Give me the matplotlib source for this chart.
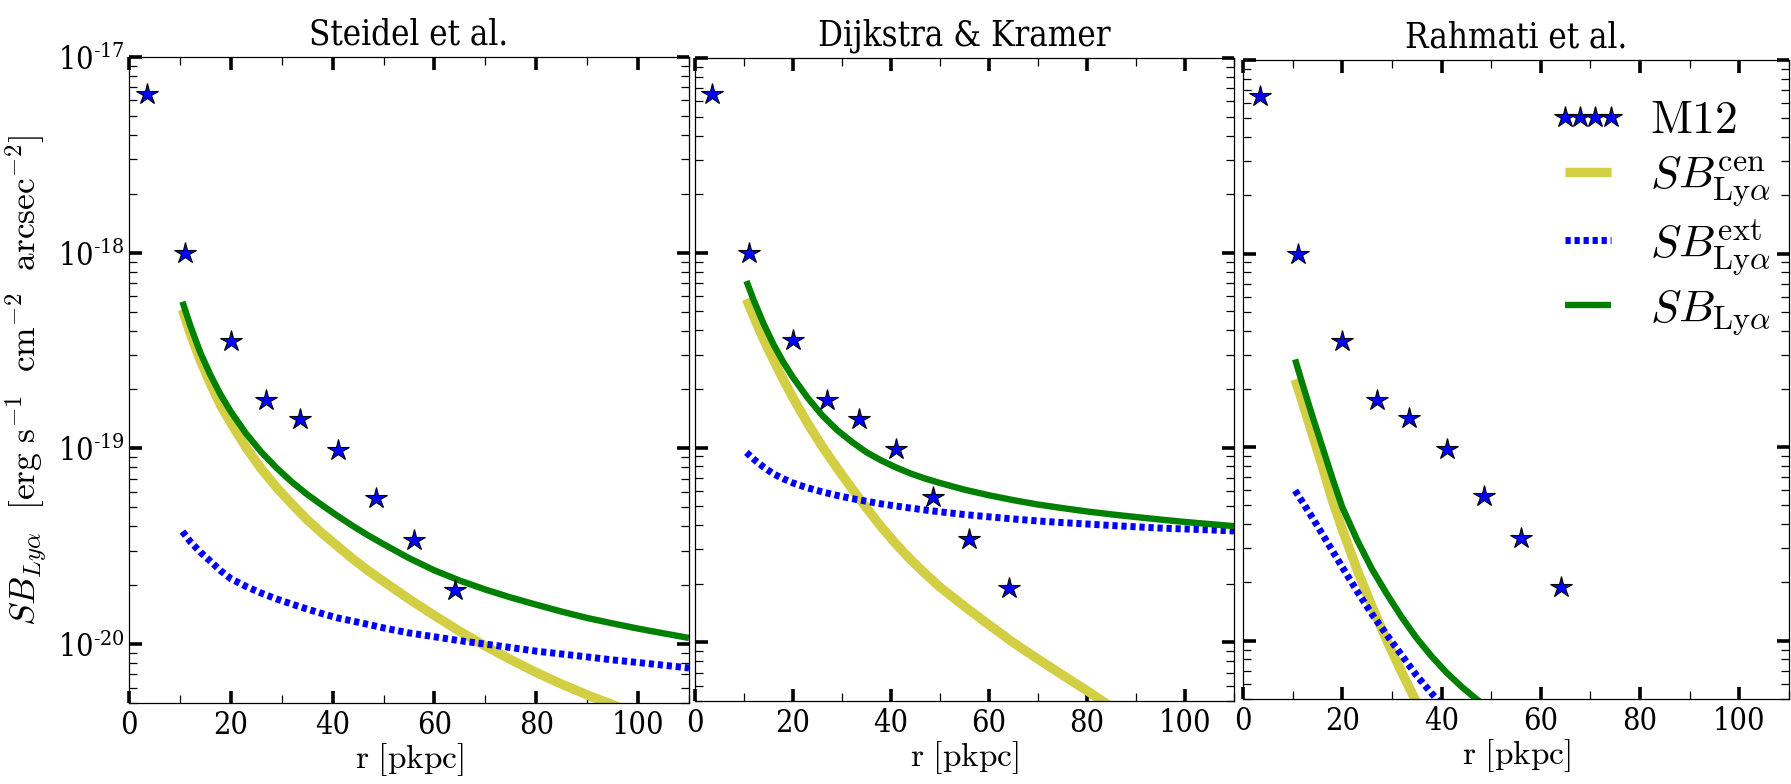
import numpy as np
import matplotlib
matplotlib.use("Agg")
import matplotlib.pyplot as plt
from matplotlib.ticker import FixedLocator, FuncFormatter, LogLocator, NullFormatter
from matplotlib.font_manager import FontProperties

# ---------------- data ----------------
titles = ["Steidel et al.", "Dijkstra & Kramer", "Rahmati et al."]

# M12 stacked profile (same in all panels)
m12_r = [3.5, 11, 20, 27, 33.5, 41, 48.5, 56, 64]
m12_sb = [6.5e-18, 1.0e-18, 3.55e-19, 1.76e-19, 1.41e-19, 9.8e-20, 5.6e-20, 3.4e-20, 1.9e-20]

# radii at which the model curves were read
r_model = [10.5, 12, 14, 16, 18, 20, 23, 26, 29, 32, 35, 38, 41, 44, 47, 50,
           55, 60, 65, 70, 75, 80, 85, 90, 95, 100, 105, 110]
r_short = [10.5, 12, 14, 16, 18, 20, 23, 26, 29, 32, 35, 38, 41, 44, 47, 50]

# Steidel et al.
st_cen = [5.13e-19, 3.89e-19, 2.82e-19, 2.14e-19, 1.66e-19, 1.35e-19, 1.01e-19, 7.85e-20,
          6.31e-20, 5.19e-20, 4.32e-20, 3.67e-20, 3.16e-20, 2.72e-20, 2.37e-20, 2.09e-20,
          1.70e-20, 1.40e-20, 1.16e-20, 9.77e-21, 8.32e-21, 7.16e-21, 6.24e-21, 5.5e-21,
          4.9e-21, 4.37e-21, 3.9e-21, 3.5e-21]
st_ext = [3.76e-20, 3.35e-20, 2.95e-20, 2.65e-20, 2.37e-20, 2.16e-20, 1.97e-20, 1.82e-20,
          1.70e-20, 1.60e-20, 1.51e-20, 1.43e-20, 1.36e-20, 1.31e-20, 1.26e-20, 1.21e-20,
          1.14e-20, 1.09e-20, 1.04e-20, 1.0e-20, 9.6e-21, 9.2e-21, 8.9e-21, 8.6e-21,
          8.3e-21, 8.05e-21, 7.8e-21, 7.55e-21]
st_tot = [5.62e-19, 4.27e-19, 3.09e-19, 2.37e-19, 1.88e-19, 1.54e-19, 1.19e-19, 9.57e-20,
          7.94e-20, 6.73e-20, 5.82e-20, 5.11e-20, 4.51e-20, 4.01e-20, 3.59e-20, 3.24e-20,
          2.75e-20, 2.38e-20, 2.11e-20, 1.90e-20, 1.73e-20, 1.59e-20, 1.465e-20, 1.36e-20,
          1.275e-20, 1.2e-20, 1.135e-20, 1.075e-20]

# Dijkstra & Kramer
dk_cen = [5.79e-19, 4.68e-19, 3.59e-19, 2.82e-19, 2.24e-19, 1.80e-19, 1.33e-19, 1.01e-19,
          7.85e-20, 6.17e-20, 4.90e-20, 3.92e-20, 3.2e-20, 2.66e-20, 2.25e-20, 1.92e-20,
          1.53e-20, 1.23e-20, 9.95e-21, 8.2e-21, 6.8e-21, 5.65e-21, 4.65e-21, 3.9e-21,
          3.3e-21, 2.8e-21, 2.4e-21, 2.05e-21]
dk_ext = [9.44e-20, 8.71e-20, 7.94e-20, 7.33e-20, 6.92e-20, 6.58e-20, 6.21e-20, 5.92e-20,
          5.68e-20, 5.47e-20, 5.30e-20, 5.14e-20, 5.01e-20, 4.89e-20, 4.78e-20, 4.68e-20,
          4.53e-20, 4.41e-20, 4.30e-20, 4.20e-20, 4.12e-20, 4.05e-20, 3.98e-20, 3.92e-20,
          3.86e-20, 3.82e-20, 3.78e-20, 3.73e-20]
dk_tot = [7.16e-19, 5.69e-19, 4.32e-19, 3.39e-19, 2.75e-19, 2.29e-19, 1.80e-19, 1.46e-19,
          1.23e-19, 1.07e-19, 9.46e-20, 8.59e-20, 7.91e-20, 7.36e-20, 6.93e-20, 6.58e-20,
          6.08e-20, 5.69e-20, 5.37e-20, 5.10e-20, 4.89e-20, 4.70e-20, 4.54e-20, 4.40e-20,
          4.27e-20, 4.15e-20, 4.05e-20, 3.95e-20]

# Rahmati et al. (curves leave the plotted range early)
ra_cen = [2.24e-19, 1.70e-19, 1.16e-19, 7.94e-20, 5.31e-20, 3.76e-20, 2.32e-20, 1.50e-20,
          1.0e-20, 6.84e-21, 4.79e-21, 3.39e-21, 2.45e-21, 1.78e-21, 1.3e-21, 9.5e-22]
ra_ext = [5.97e-20, 5.2e-20, 4.31e-20, 3.55e-20, 2.92e-20, 2.4e-20, 1.8e-20, 1.37e-20,
          1.07e-20, 8.4e-21, 6.6e-21, 5.35e-21, 4.4e-21, 3.6e-21, 3.0e-21, 2.5e-21]
ra_tot = [2.84e-19, 2.11e-19, 1.44e-19, 1.0e-19, 6.92e-20, 4.9e-20, 3.31e-20, 2.34e-20,
          1.74e-20, 1.32e-20, 1.03e-20, 8.3e-21, 6.85e-21, 5.8e-21, 5.0e-21, 4.35e-21]

panels = [
    (r_model, st_cen, st_ext, st_tot),
    (r_model, dk_cen, dk_ext, dk_tot),
    (r_short, ra_cen, ra_ext, ra_tot),
]

x_major = [0, 20, 40, 60, 80, 100]
x_minor = [10, 30, 50, 70, 90, 110]
y_major = [1e-20, 1e-19, 1e-18, 1e-17]

# ---------------- style ----------------
plt.rcParams['font.family'] = ['DejaVu Serif']
plt.rcParams['font.stretch'] = 'condensed'
plt.rcParams['mathtext.fontset'] = 'custom'
plt.rcParams['mathtext.rm'] = 'DejaVu Serif'
plt.rcParams['mathtext.it'] = 'DejaVu Serif:italic'

W, H = 1791, 784
fig = plt.figure(figsize=(W / 100, H / 100), dpi=100)

# axes boxes in pixels: left, right, top, bottom
boxes = [(129, 689, 57, 703), (695, 1234, 58, 701), (1243, 1789, 60, 699)]

col_cen = '#d3cf45'
col_ext = 'blue'
col_tot = 'green'

def ytick_fmt(v, pos):
    e = int(round(np.log10(v)))
    return r'$10^{\text{-%d}}$' % (-e)

axes = []
for i, ((l, r, t, b), (rr, cen, ext, tot)) in enumerate(zip(boxes, panels)):
    ax = fig.add_axes([l / W, (H - b) / H, (r - l) / W, (b - t) / H])
    axes.append(ax)
    ax.plot(m12_r, m12_sb, ls='none', marker='*', ms=16, mfc='blue', mec='black',
            mew=0.8, zorder=5, label=r'$\mathrm{M12}$')
    ax.plot(rr, cen, color=col_cen, lw=6.8, solid_capstyle='butt', solid_joinstyle='round',
            label=r'$SB_{\rm Ly\alpha}^{\rm cen}$')
    ax.plot(rr, ext, color=col_ext, lw=5, ls=(0, (0.75, 0.55)), dash_capstyle='butt',
            label=r'$SB_{\rm Ly\alpha}^{\rm ext}$')
    ax.plot(rr, tot, color=col_tot, lw=4.6, solid_capstyle='butt', solid_joinstyle='round',
            label=r'$SB_{\rm Ly\alpha}$')
    ax.set_yscale('log')
    ax.set_xlim(0, 110)
    ax.set_ylim(5e-21, 1e-17)
    ax.xaxis.set_major_locator(FixedLocator(x_major))
    ax.xaxis.set_minor_locator(FixedLocator(x_minor))
    ax.yaxis.set_major_locator(FixedLocator(y_major))
    ax.yaxis.set_minor_locator(LogLocator(base=10, subs=np.arange(2, 10)))
    ax.yaxis.set_minor_formatter(NullFormatter())
    if i == 0:
        ax.yaxis.set_major_formatter(FuncFormatter(ytick_fmt))
    else:
        ax.yaxis.set_major_formatter(NullFormatter())
    ax.tick_params(which='both', direction='in', top=True, right=True, labelsize=22)
    ax.tick_params(which='major', length=9, width=2.6)
    ax.tick_params(which='minor', length=6, width=0.9)
    ax.tick_params(axis='x', which='major', pad=5)
    ax.tick_params(axis='y', which='major', pad=3)
    for sp in ax.spines.values():
        sp.set_linewidth(0.9)
    ax.set_title(titles[i], fontsize=25, pad=9)
    ax.set_xlabel(r'$\mathrm{r\ [pkpc]}$', fontsize=24, math_fontfamily='cm', labelpad=0)

axes[0].set_ylabel(r'$SB_{Ly\alpha}\ \ [\mathrm{erg\ s^{-1}\ \ cm^{-2}\ \ arcsec^{-2}}]$',
                   fontsize=25.5, math_fontfamily='cm', labelpad=6)

leg = axes[2].legend(loc='upper right', bbox_to_anchor=(1.0, 0.969), frameon=False, numpoints=4,
                     prop=FontProperties(size=33, math_fontfamily='cm'),
                     handlelength=1.6, handletextpad=0.55, labelspacing=0.2,
                     borderaxespad=0.0)

fig.savefig('out.png', dpi=100)
